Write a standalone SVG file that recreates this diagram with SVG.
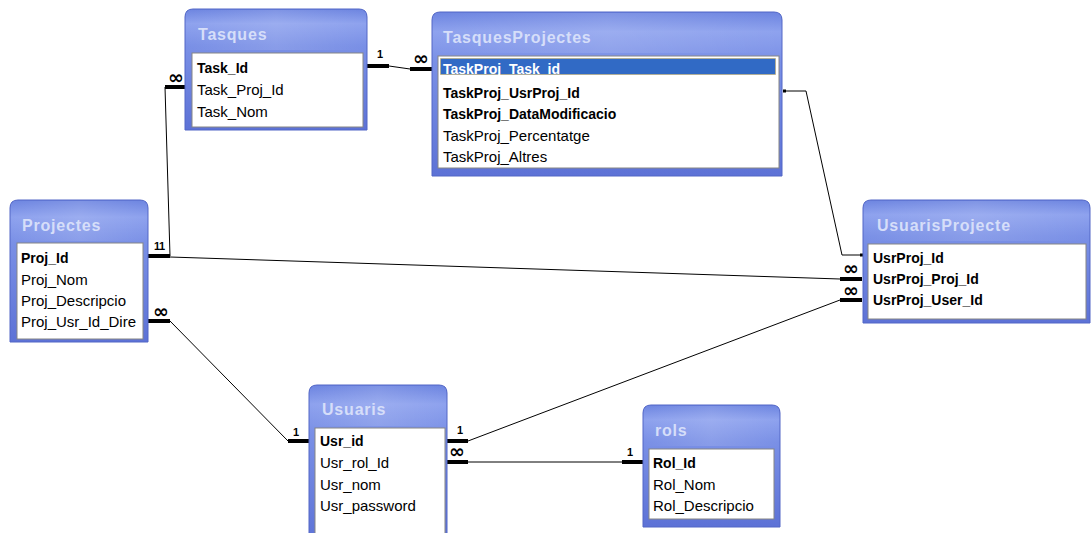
<svg xmlns="http://www.w3.org/2000/svg" width="1092" height="533" viewBox="0 0 1092 533">
<defs>
<linearGradient id="frameGrad" x1="0" y1="0" x2="0" y2="1">
<stop offset="0" stop-color="#6c84e0"/>
<stop offset="0.12" stop-color="#8ea2ee"/>
<stop offset="0.3" stop-color="#7a90e6"/>
<stop offset="1" stop-color="#5d72d6"/>
</linearGradient>
<linearGradient id="sideGrad" x1="0" y1="0" x2="1" y2="0">
<stop offset="0" stop-color="#ffffff" stop-opacity="0"/>
<stop offset="0.5" stop-color="#ffffff" stop-opacity="0.12"/>
<stop offset="1" stop-color="#ffffff" stop-opacity="0"/>
</linearGradient>
</defs>
<style>
.frame{fill:url(#frameGrad);stroke:#5266c6;stroke-width:1}
.gloss{fill:url(#sideGrad);stroke:none}
.list{fill:#ffffff;stroke:#858585;stroke-width:1}
.title{font-family:"Liberation Sans",Arial,sans-serif;font-weight:bold;font-size:16px;letter-spacing:0.8px;fill:#d6def9}
.f{font-family:"Liberation Sans",Arial,sans-serif;font-size:15px;fill:#000000}
.b{font-weight:bold;font-size:14px}
.sel{fill:#316ac5;stroke:#c8a850;stroke-width:1;stroke-dasharray:1 1}
.selt{fill:#ffffff}
.thin{fill:none;stroke:#000000;stroke-width:1}
.thick{fill:none;stroke:#000000;stroke-width:4}
.one{font-family:"Liberation Sans",Arial,sans-serif;font-weight:bold;font-size:11px;fill:#000000;text-anchor:middle}
.many{font-family:"DejaVu Sans",sans-serif;font-weight:bold;font-size:19px;fill:#000000;text-anchor:middle;dominant-baseline:central}
.dot{fill:#000000}
</style>
<rect width="1092" height="533" fill="#ffffff"/>

<g id="connectors">
<!-- Tasques.Task_Id - TasquesProjectes.TaskProj_Task_id -->
<path class="thick" d="M367,66 H389"/>
<path class="thin" d="M389,66 L410,69"/>
<path class="thick" d="M410,69 H432"/>
<text class="one" x="380" y="58">1</text>
<text class="many" x="421" y="58">∞</text>
<!-- Projectes.Proj_Id - Tasques.Task_Proj_Id -->
<path class="thick" d="M165,87 H185"/>
<path class="thin" d="M165,87 L170,256"/>
<path class="thick" d="M148,256 H170"/>
<text class="many" x="176" y="77">∞</text>
<text class="one" x="157" y="250">1</text>
<text class="one" x="162" y="250">1</text>
<!-- Projectes.Proj_Id - UsuarisProjecte.UsrProj_Proj_Id -->
<path class="thin" d="M170,257 L840,279"/>
<path class="thick" d="M840,279 H862"/>
<text class="many" x="851" y="268">∞</text>
<!-- Projectes.Proj_Usr_Id_Dire - Usuaris.Usr_id -->
<path class="thick" d="M148,321 H170"/>
<path class="thin" d="M170,321 L288,441"/>
<path class="thick" d="M288,441 H309"/>
<text class="many" x="161" y="311">∞</text>
<text class="one" x="296" y="436">1</text>
<!-- Usuaris.Usr_id - UsuarisProjecte.UsrProj_User_Id -->
<path class="thick" d="M447,441 H468"/>
<path class="thin" d="M468,441 L840,300"/>
<path class="thick" d="M840,300 H862"/>
<text class="one" x="460" y="434">1</text>
<text class="many" x="851" y="290">∞</text>
<!-- Usuaris.Usr_rol_Id - rols.Rol_Id -->
<path class="thick" d="M447,462 H468"/>
<path class="thin" d="M468,462 H622"/>
<path class="thick" d="M622,462 H643"/>
<text class="many" x="457" y="451">∞</text>
<text class="one" x="630" y="456">1</text>
<!-- TasquesProjectes.TaskProj_UsrProj_Id - UsuarisProjecte.UsrProj_Id -->
<path class="thin" d="M784,91 H806 L842,255 H862"/>
<rect class="dot" x="783" y="89.5" width="3" height="3"/>
<rect class="dot" x="860" y="253.5" width="3" height="3"/>
</g>

<g id="tasques">
<path class="frame" d="M185,130 V17 Q185,9 193,9 H359 Q367,9 367,17 V130 Z"/>
<rect class="gloss" x="186" y="10" width="180" height="40"/>
<text class="title" x="198" y="40">Tasques</text>
<rect class="list" x="192" y="53" width="171" height="74"/>
<text class="f b" x="197" y="73">Task_Id</text>
<text class="f" x="197" y="95">Task_Proj_Id</text>
<text class="f" x="197" y="117">Task_Nom</text>
</g>

<g id="tasquesprojectes">
<path class="frame" d="M432,176 V20 Q432,12 440,12 H774 Q782,12 782,20 V176 Z"/>
<rect class="gloss" x="433" y="13" width="348" height="40"/>
<text class="title" x="443" y="43">TasquesProjectes</text>
<rect class="list" x="438" y="56" width="341" height="112"/>
<rect class="sel" x="440.5" y="58.5" width="335" height="16"/>
<text class="f b selt" x="443" y="74">TaskProj_Task_id</text>
<text class="f b" x="443" y="98">TaskProj_UsrProj_Id</text>
<text class="f b" x="443" y="119">TaskProj_DataModificacio</text>
<text class="f" x="443" y="141">TaskProj_Percentatge</text>
<text class="f" x="443" y="162">TaskProj_Altres</text>
</g>

<g id="projectes">
<path class="frame" d="M10,342 V208 Q10,200 18,200 H140 Q148,200 148,208 V342 Z"/>
<rect class="gloss" x="11" y="201" width="136" height="40"/>
<text class="title" x="22" y="231">Projectes</text>
<rect class="list" x="17" y="243" width="126" height="96"/>
<text class="f b" x="21" y="263">Proj_Id</text>
<text class="f" x="21" y="285">Proj_Nom</text>
<text class="f" x="21" y="306">Proj_Descripcio</text>
<text class="f" x="21" y="327">Proj_Usr_Id_Dire</text>
</g>

<g id="usuarisprojecte">
<path class="frame" d="M863,323 V208 Q863,200 871,200 H1082 Q1090,200 1090,208 V323 Z"/>
<rect class="gloss" x="864" y="201" width="225" height="40"/>
<text class="title" x="877" y="231">UsuarisProjecte</text>
<rect class="list" x="868" y="244" width="218" height="75"/>
<text class="f b" x="873" y="263">UsrProj_Id</text>
<text class="f b" x="873" y="284">UsrProj_Proj_Id</text>
<text class="f b" x="873" y="305">UsrProj_User_Id</text>
</g>

<g id="usuaris">
<path class="frame" d="M309,545 V393 Q309,385 317,385 H439 Q447,385 447,393 V545 Z"/>
<rect class="gloss" x="310" y="386" width="136" height="40"/>
<text class="title" x="322" y="415">Usuaris</text>
<rect class="list" x="315" y="428" width="130" height="115"/>
<text class="f b" x="320" y="446">Usr_id</text>
<text class="f" x="320" y="468">Usr_rol_Id</text>
<text class="f" x="320" y="490">Usr_nom</text>
<text class="f" x="320" y="511">Usr_password</text>
</g>

<g id="rols">
<path class="frame" d="M643,527 V413 Q643,405 651,405 H772 Q780,405 780,413 V527 Z"/>
<rect class="gloss" x="644" y="406" width="135" height="40"/>
<text class="title" x="655" y="436">rols</text>
<rect class="list" x="649" y="449" width="125" height="70"/>
<text class="f b" x="653" y="468">Rol_Id</text>
<text class="f" x="653" y="490">Rol_Nom</text>
<text class="f" x="653" y="511">Rol_Descripcio</text>
</g>
</svg>
